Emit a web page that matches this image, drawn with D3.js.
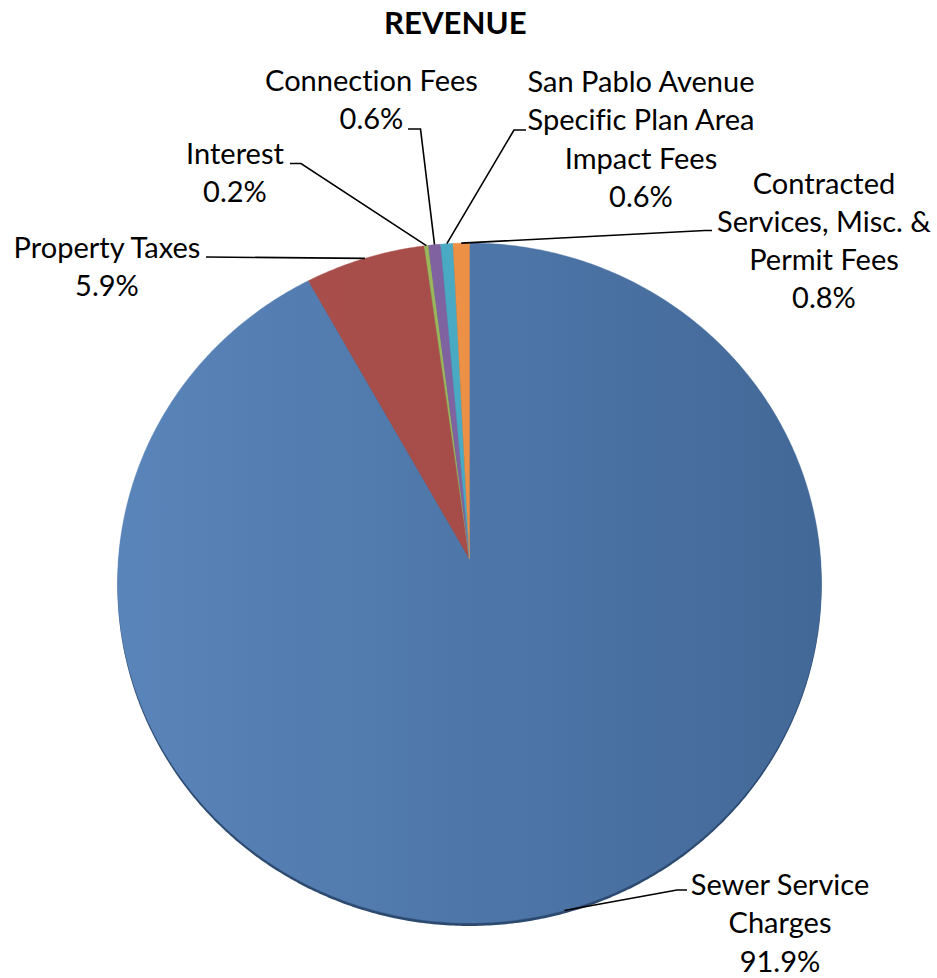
<!DOCTYPE html>
<html><head><meta charset="utf-8">
<script src="https://cdn.jsdelivr.net/npm/d3@7"></script>
<style>body{margin:0;background:#fff}svg{display:block}text{font-variant-ligatures:none;font-feature-settings:"liga" 0,"clig" 0}</style>
</head><body>
<svg id="c" width="937" height="978"></svg>
<script>
// ---- data ----
const chartTitle = "REVENUE";
const categories = ["Sewer Service Charges","Property Taxes","Interest","Connection Fees","San Pablo Avenue Specific Plan Area Impact Fees","Contracted Services, Misc. & Permit Fees"];
const values = [91.9, 5.9, 0.2, 0.6, 0.6, 0.8];
const labelLines = [["Sewer Service","Charges"],["Property Taxes"],["Interest"],["Connection Fees"],["San Pablo Avenue","Specific Plan Area","Impact Fees"],["Contracted","Services, Misc. &","Permit Fees"]];
const percentLabels = ["91.9%","5.9%","0.2%","0.6%","0.6%","0.8%"];

// ---- style / layout ----
const colorsLight = ["#5a85ba","#ad514d","#a3c060","#8769a8","#4fb2cc","#f39a4e"];
const colorsDark  = ["#426897","#9e4845","#8fab52","#765b96","#44a0b9","#e3873c"];
const labelPos = [ // text centre x, first baseline, leader start points
  {x:780, y:895, lead:[[687,890],[677,890]]},
  {x:107, y:258, lead:[[206,257]]},
  {x:235, y:163.5, lead:[[290,163.5],[301,163.5]]},
  {x:371.5, y:90.5, lead:[[408,129],[420.5,129]]},
  {x:641, y:92, lead:[[526,130],[514,130]]},
  {x:824, y:193.5, lead:[[712,230.5],[705,230.5]]}
];
const lineH = 38.3;
const fontFam = "Lato, 'Open Sans', sans-serif";

// perspective projection of the tilted disc
const cx = 469.5, cy = 559;
const D = 3.79, s = 0.2675, c = Math.sqrt(1 - s*s), F = 351.1 * D;
function proj(theta, r) {
  const u = r*Math.sin(theta), v = r*Math.cos(theta);
  const den = D + v*s;
  return [cx + F*u/den, cy - F*c*v/den];
}

const svg = d3.select("#c");
const defs = svg.append("defs");

const pie = d3.pie().sort(null).value(d => d)(values);

function slicePoints(a0, a1) {
  const pts = [proj(0,0)];
  const n = Math.max(2, Math.ceil((a1 - a0) / (Math.PI/360)));
  for (let i = 0; i <= n; i++) pts.push(proj(a0 + (a1-a0)*i/n, 1));
  return pts;
}
const line = d3.line();

colorsLight.forEach((col, i) => {
  const g = defs.append("linearGradient").attr("id","g"+i)
    .attr("gradientUnits","userSpaceOnUse").attr("x1",118).attr("x2",822).attr("y1",0).attr("y2",0);
  g.append("stop").attr("offset","0").attr("stop-color",col);
  g.append("stop").attr("offset","1").attr("stop-color",colorsDark[i]);
});

// side / rim (thickness)
const rimPts = slicePoints(0, 2*Math.PI).slice(1).map(p => [p[0], p[1]+3]);
svg.append("path").attr("d", line(rimPts)+"Z").attr("fill","#2c4a70");

svg.append("g").selectAll("path").data(pie).join("path")
  .attr("d", d => line(slicePoints(d.startAngle, d.endAngle)) + "Z")
  .attr("fill", (d,i) => `url(#g${i})`)
  .attr("stroke", (d,i) => `url(#g${i})`).attr("stroke-width", 0.4);

// leader lines
svg.append("g").selectAll("path").data(pie).join("path")
  .attr("fill","none").attr("stroke","#000").attr("stroke-width",1.6)
  .attr("d", (d,i) => {
    const mid = (d.startAngle + d.endAngle)/2;
    return line([...labelPos[i].lead, proj(mid, 1)]);
  });

// labels
const lg = svg.append("g").attr("font-family", fontFam).attr("font-size", 30).attr("fill","#000");
const texts = [];
labelLines.forEach((lines, i) => {
  const all = [...lines, percentLabels[i]];
  all.forEach((t, k) => {
    texts.push(lg.append("text").attr("x", labelPos[i].x).attr("y", labelPos[i].y + k*lineH)
      .attr("text-anchor","middle").text(t));
  });
});
// fit font size to Calibri-like label widths
const ref = texts.find(t => t.text() === "Connection Fees");
const fs = 30 * 213 / ref.node().getComputedTextLength();
lg.attr("font-size", fs);

const tt = svg.append("text").attr("x", 455.3).attr("y", 33.5).attr("text-anchor","middle")
  .attr("font-family", fontFam).attr("font-weight","bold").attr("font-size", 30).text(chartTitle);
tt.attr("font-size", 30 * 142.7 / tt.node().getComputedTextLength());
</script>
</body></html>
